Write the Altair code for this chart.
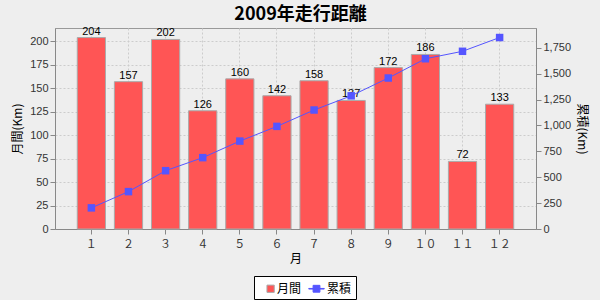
import altair as alt
import pandas as pd

months = ["１", "２", "３", "４", "５", "６", "７", "８", "９", "１０", "１１", "１２"]
monthly = [204, 157, 202, 126, 160, 142, 158, 137, 172, 186, 72, 133]
cumulative = [204, 361, 563, 689, 849, 991, 1149, 1286, 1458, 1644, 1716, 1849]
series_names = ["月間", "累積"]

df = pd.DataFrame({"month": months, "monthly": monthly, "cum": cumulative})
legend_df = pd.DataFrame({"series": series_names})

JP = "Noto Sans CJK JP"
NUM = "Liberation Sans"

x_enc = alt.X(
    "month:N", sort=months, title="月",
    scale=alt.Scale(paddingInner=0.24, paddingOuter=0.6),
    axis=alt.Axis(labelAngle=0, grid=True, bandPosition=0.5, gridDash=[2, 2],
                  gridColor="#CCCCCC", labelFont=JP, labelFontSize=11,
                  titleFont=JP, titleFontSize=12, titleFontWeight="normal",
                  labelPadding=4, titlePadding=4, tickColor="#888", domainColor="#888",
                  labelColor="#333", titleColor="#000", labelOverlap=False),
)

y_left = alt.Y("monthly:Q", title="月間(Km)",
               scale=alt.Scale(domain=[0, 214.2], nice=False),
               axis=alt.Axis(values=list(range(0, 201, 25)), grid=True, gridDash=[2, 2],
                             gridColor="#CCCCCC", labelFont=NUM, labelFontSize=11,
                             titleFont=JP, titleFontSize=12, titleFontWeight="normal",
                             tickColor="#888", domainColor="#888", labelColor="#333",
                             titleColor="#000", titlePadding=5, labelOverlap=False))

y_right = alt.Y("cum:Q", title="累積(Km)",
                scale=alt.Scale(domain=[0, 1941], nice=False),
                axis=alt.Axis(orient="right", values=list(range(0, 1751, 250)), format=",d",
                              grid=False, labelFont=NUM, labelFontSize=11,
                              titleFont=JP, titleFontSize=12, titleFontWeight="normal",
                              tickColor="#888", domainColor="#888", labelColor="#333",
                              titleColor="#000", titlePadding=4, labelOverlap=False))

bars = alt.Chart().mark_bar(color="#FF5555", stroke="#AAAAAA", strokeWidth=1)
labels = alt.Chart().mark_text(dy=-6, fontSize=11, font=NUM, color="#000").encode(
    text=alt.Text("monthly:Q"))
left = alt.layer(bars, labels, data=df).encode(x=x_enc, y=y_left)

line = alt.Chart().mark_line(color="#5555FF", strokeWidth=1)
pts = alt.Chart().mark_point(shape="square", filled=True, size=56, opacity=1, color="#5555FF")
right = alt.layer(line, pts, data=df).encode(x=alt.X("month:N", sort=months), y=y_right)

sq = "M0.06,-0.47H1V0.47H0.06Z"
ln = "M-1,-0.04H1V0.04H-1Z M-0.44,-0.44H0.44V0.44H-0.44Z"

leg = alt.Legend(orient="none", legendX=199, legendY=248, direction="horizontal",
                 title=None, strokeColor="#000", padding=4, symbolSize=240,
                 labelFont=JP, labelFontSize=12, labelColor="#000",
                 columnPadding=4, labelOffset=2, fillColor="#FFFFFF",
                 symbolOpacity=1, symbolStrokeWidth=1)

legend_layer = alt.Chart(legend_df).mark_point(filled=True, opacity=0).encode(
    color=alt.Color("series:N", scale=alt.Scale(domain=series_names, range=["#FF5555", "#5555FF"]), legend=leg),
    shape=alt.Shape("series:N", scale=alt.Scale(domain=series_names, range=[sq, ln]), legend=leg),
    stroke=alt.Stroke("series:N", scale=alt.Scale(domain=series_names, range=["#AAAAAA", "#5555FF"]), legend=leg),
)

chart = alt.layer(left, right, legend_layer).resolve_scale(y="independent").properties(
    width=481, height=201,
    title=alt.Title("2009年走行距離", font=JP, fontSize=18, fontWeight="bold", color="#000",
                    anchor="middle", offset=2, dx=5),
    autosize=alt.AutoSizeParams(type="none"),
    padding={"left": 55, "top": 28, "right": 64, "bottom": 71},
).configure(background="#EEEEEE").configure_view(fill="#FFFFFF", stroke="#999999")

chart.save("out.html", embed_options={"renderer": "svg", "actions": False})
